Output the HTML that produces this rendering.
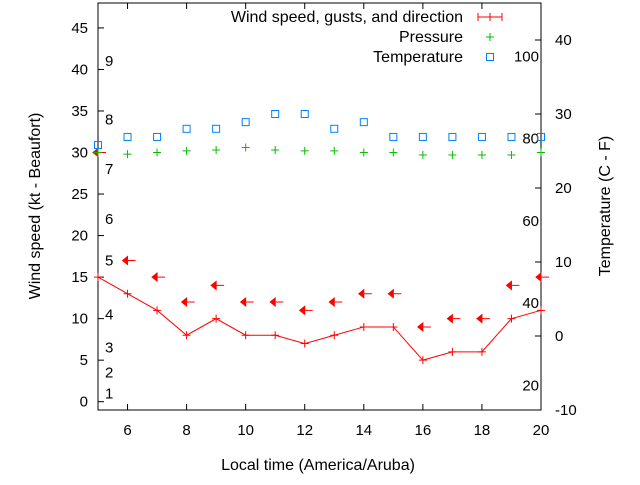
<!DOCTYPE html>
<html><head><meta charset="utf-8"><style>
body{margin:0;background:#fff}
svg{font-family:"Liberation Sans",sans-serif;font-size:15px}
.big{font-size:16px}
</style></head><body>
<svg id="c" width="640" height="480" xmlns="http://www.w3.org/2000/svg"></svg>
<script>
const hours=[5,6,7,8,9,10,11,12,13,14,15,16,17,18,19,20];
const windSpeed=[15,13,11,8,10,8,8,7,8,9,9,5,6,6,10,11];
const windArrowY=[30,17,15,12,14,12,12,11,12,13,13,9,10,10,14,15];
const pressure=[30,29.8,30,30.2,30.3,30.6,30.3,30.2,30.2,30,30,29.7,29.7,29.7,29.7,30];
const temperature=[25.8,26.9,26.9,28,28,28.9,30,30,28,28.9,26.9,26.9,26.9,26.9,26.9,26.9];
const xTicks=[6,8,10,12,14,16,18,20];
const yTicks=[0,5,10,15,20,25,30,35,40,45];
const tTicks=[-10,0,10,20,30,40];
const beaufort=[[1,1],[2,3.5],[3,6.5],[4,10.5],[5,17],[6,22],[7,28],[8,34],[9,41]];
const fahr=[20,40,60,80,100];
const L=98,R=541,T=3,B=410;
const X=h=>L+(h-5)*(R-L)/15;
const Y=v=>B-(v+1)*(B-T)/49;
const YT=t=>B-(t+10)*(B-T)/55;
const YF=f=>YT((f-32)*5/9);
const s=document.getElementById('c');
function el(tag,a,txt){const e=document.createElementNS('http://www.w3.org/2000/svg',tag);for(const k in a)e.setAttribute(k,a[k]);if(txt!==undefined)e.textContent=txt;s.appendChild(e);return e;}
let e;
e=el('rect',{x:L,y:T,width:R-L,height:B-T,fill:'none',stroke:'#000'});


xTicks.forEach(h=>{
 e=el('line',{x1:X(h),x2:X(h),y1:B,y2:B-6,stroke:'#000'});
 
 
 el('line',{x1:X(h),x2:X(h),y1:T,y2:T+6,stroke:'#000'});
 e=el('text',{x:X(h),y:B+25,'text-anchor':'middle'},h);
 
 
});
yTicks.forEach(v=>{
 el('line',{x1:L,x2:L+6,y1:Y(v),y2:Y(v),stroke:'#000'});
 e=el('text',{x:L-10,y:Y(v)+5,'text-anchor':'end'},v);
 
 
});
tTicks.forEach(t=>{
 el('line',{x1:R,x2:R-6,y1:YT(t),y2:YT(t),stroke:'#000'});
 e=el('text',{x:R+14,y:YT(t)+5},t);
 
 
});
beaufort.forEach(b=>{
 e=el('text',{x:105,y:Y(b[1])+5},b[0]);
 
 
});
fahr.forEach(f=>{
 e=el('text',{x:539,y:YF(f)+5,'text-anchor':'end'},f);
 
 
});
e=el('text',{x:318,y:470,'text-anchor':'middle',class:'big'},'Local time (America/Aruba)');


e=el('text',{x:40,y:206,'text-anchor':'middle',class:'big',transform:'rotate(-90 40 206)'},'Wind speed (kt - Beaufort)');


e=el('text',{x:610,y:206,'text-anchor':'middle',class:'big',transform:'rotate(-90 610 206)'},'Temperature (C - F)');


e=el('polyline',{points:hours.map((h,i)=>X(h)+','+Y(windSpeed[i])).join(' '),fill:'none',stroke:'#f00'});


hours.forEach((h,i)=>{
 const x=X(h),y=Y(windSpeed[i]);
 e=el('path',{d:`M${x-4} ${y}h8M${x} ${y-4}v8`,stroke:'#f00'});
 
 
 const ay=Y(windArrowY[i]);
 e=el('path',{d:`M${x-5} ${ay}h13M${x-5} ${ay}l5 -4v8z`,stroke:'#f00',fill:'#f00'});
 
 
});
hours.forEach((h,i)=>{
 const x=X(h),y=Y(pressure[i]);
 e=el('path',{d:`M${x-4} ${y}h8M${x} ${y-4}v8`,stroke:'#00c000'});
 
 
});
hours.forEach((h,i)=>{
 const x=X(h),y=YT(temperature[i]);
 e=el('rect',{x:x-3.5,y:y-3.5,width:7,height:7,fill:'none',stroke:'#0080ff'});
 
 
});
e=el('text',{x:463,y:22,'text-anchor':'end',class:'big'},'Wind speed, gusts, and direction');


el('path',{d:'M478 17h24M478 13v8M502 13v8M490 13v8',stroke:'#f00'});
e=el('text',{x:463,y:42,'text-anchor':'end',class:'big'},'Pressure');


el('path',{d:'M486 37h8M490 33v8',stroke:'#00c000'});
e=el('text',{x:463,y:62,'text-anchor':'end',class:'big'},'Temperature');


el('rect',{x:486.5,y:53.5,width:7,height:7,fill:'none',stroke:'#0080ff'});
</script>
</body></html>
